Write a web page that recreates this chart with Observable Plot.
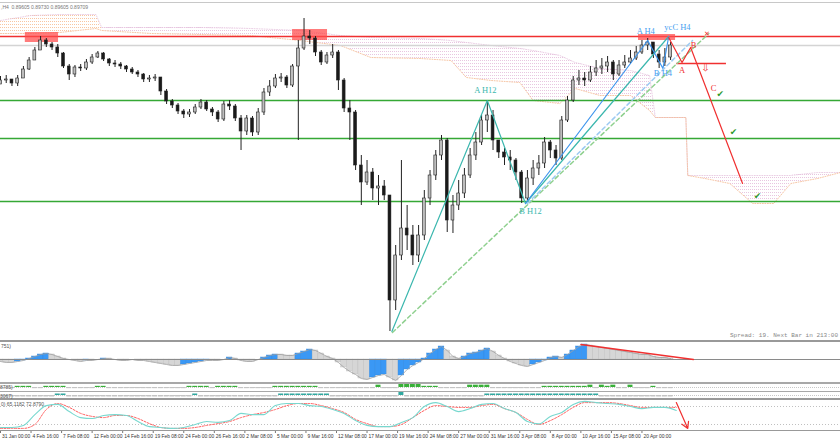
<!DOCTYPE html>
<html>
<head>
<meta charset="utf-8">
<script src="https://cdn.jsdelivr.net/npm/d3@7"></script>
<script src="https://cdn.jsdelivr.net/npm/@observablehq/plot@0.6"></script>
<style>
  body { margin: 0; background: #fff; }
  #chart { position: relative; width: 840px; height: 440px; overflow: hidden; background: #fff; }
  #chart svg { position: absolute; left: 0; }
  .sep { position: absolute; left: 0; width: 840px; background: #a8a8a8; }
  .lbl { position: absolute; white-space: pre; font-family: "Liberation Sans", sans-serif; font-size: 5.5px; color: #555; }
</style>
</head>
<body>
<div id="chart"></div>
<script>
// H4 candles, one every 3 bars (x = bar number)
const firstOpen = 0.8932;
const close = [0.8936,0.8937,0.8933,0.8938,0.8947,0.8956,0.8966,0.8976,0.8972,0.8969,
  0.8963,0.8950,0.8942,0.8949,0.8948,0.8954,0.8959,0.8963,0.8957,0.8953,
  0.8952,0.8950,0.8947,0.8944,0.8942,0.8937,0.8938,0.8939,0.8925,0.8915,
  0.8911,0.8905,0.8902,0.8904,0.8909,0.8914,0.8907,0.8904,0.8897,0.8912,
  0.8910,0.8898,0.8885,0.8898,0.8884,0.8904,0.8924,0.8930,0.8938,0.8939,
  0.8931,0.8950,0.8968,0.8980,0.8978,0.8964,0.8954,0.8961,0.8964,0.8936,
  0.8908,0.8904,0.8851,0.8834,0.8844,0.8828,0.8830,0.8821,0.8716,0.8761,
  0.8788,0.8781,0.8761,0.8781,0.8818,0.8841,0.8861,0.8876,0.8796,0.8811,
  0.8823,0.8841,0.8861,0.8874,0.8896,0.8901,0.8876,0.8864,0.8859,0.8856,
  0.8844,0.8818,0.8838,0.8848,0.8853,0.8874,0.8866,0.8858,0.8896,0.8916,
  0.8936,0.8938,0.8936,0.8944,0.8948,0.8950,0.8954,0.8942,0.8951,0.8954,
  0.8958,0.8964,0.8971,0.8974,0.8962,0.8954,0.8959,0.8971];
const high = [0.8940,0.8941,0.8937,0.8941,0.8950,0.8959,0.8969,0.8980,0.8978,0.8974,
  0.8972,0.8964,0.8952,0.8951,0.8952,0.8957,0.8962,0.8965,0.8964,0.8958,
  0.8956,0.8954,0.8951,0.8949,0.8946,0.8943,0.8941,0.8942,0.8939,0.8927,
  0.8917,0.8913,0.8907,0.8907,0.8912,0.8917,0.8916,0.8909,0.8906,0.8915,
  0.8916,0.8912,0.8901,0.8901,0.8900,0.8908,0.8928,0.8936,0.8942,0.8943,
  0.8941,0.8952,0.8976,0.8998,0.8986,0.8980,0.8966,0.8964,0.8972,0.8966,
  0.8938,0.8916,0.8906,0.8861,0.8856,0.8848,0.8841,0.8836,0.8821,0.8771,
  0.8856,0.8811,0.8791,0.8791,0.8826,0.8846,0.8866,0.8881,0.8878,0.8821,
  0.8836,0.8848,0.8868,0.8884,0.8901,0.8916,0.8906,0.8876,0.8868,0.8866,
  0.8858,0.8846,0.8846,0.8856,0.8861,0.8879,0.8876,0.8871,0.8900,0.8920,
  0.8940,0.8946,0.8944,0.8950,0.8956,0.8958,0.8960,0.8956,0.8956,0.8961,
  0.8966,0.8970,0.8976,0.8978,0.8974,0.8966,0.8968,0.8974];
const low = [0.8932,0.8933,0.8930,0.8930,0.8940,0.8946,0.8956,0.8966,0.8969,0.8966,
  0.8959,0.8948,0.8936,0.8939,0.8945,0.8946,0.8952,0.8958,0.8955,0.8950,
  0.8949,0.8947,0.8944,0.8942,0.8939,0.8934,0.8934,0.8935,0.8921,0.8912,
  0.8908,0.8902,0.8898,0.8899,0.8902,0.8907,0.8905,0.8900,0.8894,0.8895,
  0.8906,0.8895,0.8866,0.8881,0.8880,0.8881,0.8901,0.8920,0.8928,0.8934,
  0.8928,0.8929,0.8876,0.8966,0.8972,0.8960,0.8951,0.8952,0.8958,0.8926,
  0.8904,0.8876,0.8846,0.8811,0.8831,0.8816,0.8811,0.8816,0.8685,0.8706,
  0.8756,0.8766,0.8751,0.8754,0.8776,0.8811,0.8836,0.8856,0.8784,0.8783,
  0.8806,0.8818,0.8838,0.8856,0.8871,0.8884,0.8866,0.8858,0.8851,0.8846,
  0.8836,0.8813,0.8816,0.8831,0.8841,0.8848,0.8858,0.8851,0.8856,0.8894,
  0.8914,0.8931,0.8930,0.8934,0.8940,0.8942,0.8944,0.8936,0.8940,0.8948,
  0.8952,0.8956,0.8962,0.8966,0.8958,0.8948,0.8950,0.8956];

// histogram oscillator (points), same candles
const macd = [-2,-3,-3,-2,-1,1,3,5,6,5, 3,1,0,-1,-2,-1,-1,0,1,1,
  0,-1,-1,0,-1,-1,-2,-3,-4,-5, -6,-6,-5,-4,-3,-2,-1,-1,-1,0,
  2,1,-1,-2,-2,0,2,4,5,5, 4,4,6,8,10,9,6,3,1,-3,
  -8,-12,-15,-19,-20,-18,-16,-15,-18,-21, -16,-10,-6,-3,1,6,10,13,9,3,
  1,3,6,7,9,11,8,4,1,-2, -4,-6,-7,-5,-3,-1,2,3,2,5,
  9,13,15,14,13,12,11,10,9,8, 7,6,5,5,3,2,2,1];
const osc1 = [-1,-1,-1,1,1,1,-1,-1,1,1, 1,1,-1,-1,-1,-1,-1,1,1,-1,
  -1,-1,-1,-1,-1,-1,-1,-1,-1,-1, -1,-1,-1,1,1,1,1,-1,1,1,
  1,1,-1,-1,-1,-1,-1,-1,1,1, 1,1,1,1,1,1,-1,-1,-1,-1,
  -1,-1,-1,-1,-1,-1,2,-1,-1,-1, 3,3,3,3,1,1,1,-1,-1,-1,
  -1,-1,2,2,2,2,-1,-1,-1,-1, -1,-1,-1,-1,-1,1,1,1,1,1,
  1,1,1,2,-1,2,1,2,-1,-1, 2,-1,-1,-1,1,-1,-1,-1];
const osc2 = [-1,-1,-1,-1,-1,-1,-1,-1,-1,-1, 1,1,-1,-1,-1,-1,-1,-1,-1,-1,
  -1,-1,-1,-1,-1,-1,-1,-1,-1,-1, -1,-1,-1,-1,1,-1,-1,-1,-1,-1,
  -1,-1,-1,-1,-1,-1,-1,-1,-1,1, 1,1,1,1,1,1,1,1,-1,-1,
  -1,-1,-1,-1,-1,-1,-1,-1,-1,-1, 2,-1,-1,-1,-1,-1,-1,-1,-1,-1,
  -1,-1,-1,-1,-1,1,1,1,1,1, 1,1,1,1,1,1,1,1,1,1,
  1,1,1,1,1,-1,-1,-1,-1,-1, -1,-1,-1,-1,-1,-1,-1,-1];

// stochastic, one value every 6 bars
const stochMain = [10,10,17,53,83,87,63,43,40,50, 53,50,30,13,10,7,10,20,30,27,
  33,57,53,53,83,90,90,83,80,70, 57,33,17,13,13,27,43,80,93,80,
  63,73,87,90,73,60,30,22,47,60, 87,97,93,90,87,80,73,77,77,67];
const stochSignal = [7,7,7,20,70,90,77,57,47,43, 50,50,40,23,10,7,7,10,17,23,
  30,43,53,60,70,83,90,90,83,73, 60,37,23,13,13,20,43,67,83,80,
  77,77,83,87,73,60,37,20,33,53, 77,93,93,93,90,83,77,77,77,77];

// ichimoku cloud
const cloudBar = [0,16,31,50,53,79,105,131,157,178,194,220,236,244,257,272,279,293,301,314,330,340,343,359,360,369,382,394,405,414,428,440];
const cloudA = [0.8996,0.9001,0.9002,0.9002,0.8989,0.8989,0.8989,0.8988,0.8986,0.8981,0.8979,0.8978,0.8976,0.8974,0.8971,0.8968,
  0.8966,0.8961,0.8954,0.8948,0.8946,0.8941,0.8899,0.8899,0.8841,0.8841,0.8841,0.8841,0.8841,0.8841,0.8844,0.8844];
const cloudB = [0.8983,0.8983,0.8984,0.8988,0.8986,0.8983,0.8982,0.8981,0.8976,0.8971,0.8959,0.8958,0.8956,0.8939,0.8936,0.8934,
  0.8916,0.8913,0.8928,0.8921,0.8921,0.8906,0.8899,0.8899,0.8841,0.8838,0.8833,0.8813,0.8813,0.8833,0.8838,0.8844];

// levels and zones
const resistance = 0.8980;
const supports = [0.8916, 0.8878, 0.8815];
const zones = [
  {x1: 13, x2: 30.4, y1: 0.8974, y2: 0.8984},
  {x1: 153, x2: 171.3, y1: 0.8976, y2: 0.8987},
  {x1: 334.2, x2: 353.6, y1: 0.8976, y2: 0.8982}
];
const stopLevel = [{x1: 354, x2: 380, price: 0.8953}];

// wave drawings (bar, price)
const wavesH12 = [{bar: 205, price: 0.8685}, {bar: 255, price: 0.8916}, {bar: 275, price: 0.8813}];
const wavesH4 = [{bar: 339, price: 0.8976}, {bar: 347, price: 0.8948}, {bar: 350, price: 0.8980}];
const lineToA4 = [{bar: 275, price: 0.8813}, {bar: 339, price: 0.8976}];
const lineToC4 = [{bar: 275, price: 0.8813}, {bar: 350, price: 0.8980}];
const channelBlue = [{bar: 276, price: 0.8813}, {bar: 362.5, price: 0.8976}];
const channelGreen = [{bar: 205.3, price: 0.8684}, {bar: 371, price: 0.8983}];
const forecast = [{bar: 350, price: 0.8979}, {bar: 357, price: 0.8954}, {bar: 361.5, price: 0.8969}, {bar: 388.7, price: 0.8833}];
const divergence = [{bar: 304, v: 15}, {bar: 363, v: 0}];
const stochArrow = [{x1: 354, y1: 93, x2: 360, y2: 7}];

const waveLabels = [
  {bar: 254, price: 0.8926, text: "A H12", color: "#3bb7ae"},
  {bar: 277.6, price: 0.8805, text: "B H12", color: "#3bb7ae"},
  {bar: 338, price: 0.8985, text: "A H4", color: "#4a9ff0"},
  {bar: 354.6, price: 0.8989, text: "усС H4", color: "#4a9ff0"},
  {bar: 347, price: 0.8943, text: "B H4", color: "#4a9ff0"},
  {bar: 357, price: 0.8946, text: "A", color: "#f03030"},
  {bar: 363, price: 0.8971, text: "B", color: "#f03030"},
  {bar: 373.5, price: 0.8928, text: "C", color: "#f03030"}
];
const checks = [{bar: 377, price: 0.8922}, {bar: 384, price: 0.8884}, {bar: 396.5, price: 0.8820}];

const tickLabels = ["31 Jan 00:00","4 Feb 16:00","7 Feb 08:00","12 Feb 00:00","14 Feb 16:00","19 Feb 08:00",
  "24 Feb 00:00","26 Feb 16:00","2 Mar 08:00","5 Mar 00:00","9 Mar 16:00","12 Mar 08:00","17 Mar 00:00",
  "19 Mar 16:00","24 Mar 08:00","27 Mar 00:00","31 Mar 16:00","3 Apr 08:00","8 Apr 00:00","10 Apr 16:00",
  "15 Apr 08:00","20 Apr 00:00"];
const tickBars = tickLabels.map((d, i) => i * 16);

// ---- tables
const candles = close.map((c, i) => ({x: 3 * i, o: i ? close[i - 1] : firstOpen, c, h: high[i], l: low[i]}));
const hist = macd.map((v, i) => ({x: 3 * i, v, up: i > 0 && v > macd[i - 1]}));
const bars1 = osc1.map((v, i) => ({x: 3 * i, v}));
const bars2 = osc2.map((v, i) => ({x: 3 * i, v}));
const stoch = stochMain.map((v, i) => ({x: 6 * i, main: v, signal: stochSignal[i]}));
const cloud = cloudBar.map((b, i) => ({bar: b, a: cloudA[i], b: cloudB[i]}));

const chart = document.getElementById("chart");
const X = {domain: [0, 440], range: [0, 840], axis: null};
const red = "#f03030", green = "#35a835", teal = "#3bb7ae", blue = "#3d95ee";

function panel(top, height, y, marks) {
  const svg = Plot.plot({width: 840, height, margin: 0, x: X, y: {...y, axis: null}, marks,
    style: {background: "transparent", fontFamily: "Liberation Sans"}});
  svg.style.top = top + "px";
  chart.append(svg);
  return svg;
}

// ---- main price panel
const main = panel(0, 340, {domain: [0.8676, 0.9016], range: [340, 0]}, [
  Plot.areaY(cloud.filter(d => d.bar <= 53), {x: "bar", y1: "a", y2: "b", fill: "url(#dotsOrange)"}),
  Plot.areaY(cloud.filter(d => d.bar >= 53), {x: "bar", y1: "a", y2: "b", fill: "url(#dotsPink)"}),
  Plot.line(cloud, {x: "bar", y: "a", stroke: "#e6c4de", strokeWidth: 0.8, strokeDasharray: "1,1.5"}),
  Plot.line(cloud, {x: "bar", y: "b", stroke: "#f4b88e", strokeWidth: 0.8, strokeDasharray: "1,1.5"}),
  Plot.ruleY([close[close.length - 1]], {stroke: "#d4d4d4", strokeWidth: 1.5}),
  Plot.ruleY([resistance], {stroke: red, strokeWidth: 1.3}),
  Plot.ruleY(supports, {stroke: green, strokeWidth: 1.5}),
  Plot.link(stopLevel, {x1: "x1", x2: "x2", y1: "price", y2: "price", stroke: red, strokeWidth: 1.4}),
  Plot.rect(zones, {x1: "x1", x2: "x2", y1: "y1", y2: "y2", fill: "#ff4a4a", fillOpacity: 0.72}),
  Plot.line(channelGreen, {x: "bar", y: "price", stroke: "#8fd08f", strokeDasharray: "4,3"}),
  Plot.ruleX(candles, {x: "x", y1: "l", y2: "h", stroke: "#222", strokeWidth: 1}),
  Plot.rect(candles, {x1: d => d.x - 0.75, x2: d => d.x + 0.75, y1: "o", y2: "c",
    fill: d => d.c >= d.o ? "#bdbdbd" : "#1a1a1a", stroke: "#222", strokeWidth: 0.6}),
  Plot.line(wavesH12, {x: "bar", y: "price", stroke: teal, strokeWidth: 1.2}),
  Plot.line(lineToC4, {x: "bar", y: "price", stroke: teal, strokeWidth: 1.2}),
  Plot.line(lineToA4, {x: "bar", y: "price", stroke: blue, strokeWidth: 1.2}),
  Plot.line(wavesH4, {x: "bar", y: "price", stroke: blue, strokeWidth: 1.2}),
  Plot.line(channelBlue, {x: "bar", y: "price", stroke: "#9ccaf2", strokeDasharray: "4,3"}),
  Plot.line(forecast, {x: "bar", y: "price", stroke: red, strokeWidth: 1.2}),
  Plot.text(waveLabels, {x: "bar", y: "price", text: "text", fill: "color", fontSize: 8.5,
    fontFamily: "Liberation Serif"}),
  Plot.text([{bar: 370, price: 0.8983}], {x: "bar", y: "price", text: () => "✕", fill: red, fontSize: 7,
    fontWeight: "bold", fontFamily: "DejaVu Sans"}),
  Plot.text([{bar: 369.3, price: 0.8949}], {x: "bar", y: "price", text: () => "⇩", fill: red, fontSize: 10,
    fontFamily: "DejaVu Sans"}),
  Plot.text(checks, {x: "bar", y: "price", text: () => "✔", fill: "#2f9a2f", fontSize: 9,
    fontFamily: "DejaVu Sans"})
]);

// dotted hatch for the cloud
const defs = d3.select(main).insert("defs", ":first-child");
[["dotsOrange", "#f8c6a2"], ["dotsPink", "#e8c6e0"]].forEach(([id, col]) => {
  const p = defs.append("pattern").attr("id", id).attr("width", 2).attr("height", 3)
    .attr("patternUnits", "userSpaceOnUse");
  p.append("rect").attr("width", 1).attr("height", 1).attr("fill", col);
});

// ---- histogram panel
panel(340, 42, {domain: [-23, 19], range: [42, 0]}, [
  Plot.rect(hist, {x1: d => d.x - 1.5, x2: d => d.x + 1.5, y1: 0, y2: "v",
    fill: d => d.up ? "#3a98f5" : "#d6d6d6", stroke: d => d.up ? "#2b86e0" : "#bcbcbc", strokeWidth: 0.4}),
  Plot.line(hist, {x: "x", y: "v", stroke: "#a0a0a0", strokeWidth: 0.8}),
  Plot.ruleY([0], {stroke: "#8a8a8a"}),
  Plot.line(divergence, {x: "bar", y: "v", stroke: red, strokeWidth: 1.3})
]);

// ---- two thin oscillator strips
panel(383, 8, {domain: [-3, 3], range: [7.5, 0.5]}, [
  Plot.ruleY([0], {stroke: "#c8c8c8", strokeDasharray: "1,1"}),
  Plot.rect(bars1, {x1: d => d.x - 1.3, x2: d => d.x + 1.3, y1: 0, y2: "v",
    fill: d => d.v > 0 ? "#38b038" : "#c4c4c4"})
]);
panel(392, 6, {domain: [-2, 2], range: [6, 0]}, [
  Plot.ruleY([0], {stroke: "#c8c8c8", strokeDasharray: "1,1"}),
  Plot.rect(bars2, {x1: d => d.x - 1.3, x2: d => d.x + 1.3, y1: 0, y2: "v",
    fill: d => d.v > 0 ? "#30a8a0" : "#c4c4c4"})
]);

// ---- stochastic panel
panel(399, 32, {domain: [0, 100], range: [31, 1]}, [
  Plot.ruleY([20, 80], {stroke: "#c0c0c0", strokeDasharray: "1,2"}),
  Plot.line(stoch, {x: "x", y: "signal", stroke: "#ff6060", strokeWidth: 1, strokeDasharray: "2,1.5", curve: "monotone-x"}),
  Plot.line(stoch, {x: "x", y: "main", stroke: "#78d8cf", strokeWidth: 1.1, curve: "monotone-x"}),
  Plot.arrow(stochArrow, {x1: "x1", y1: "y1", x2: "x2", y2: "y2", stroke: red, strokeWidth: 1.2, headLength: 9})
]);

// ---- time axis
panel(431, 9, {domain: [0, 9], range: [0, 9]}, [
  Plot.ruleX(tickBars, {y1: 0, y2: 2, stroke: "#777"}),
  Plot.text(tickBars, {x: d => d, y: 4.8, text: (d, i) => tickLabels[i], textAnchor: "start", dx: 1.5,
    fontSize: 4.9, fill: "#333", fontFamily: "Liberation Sans"})
]);

// ---- separators and terminal texts
[[1.5, 1.2, "#c8c8c8"], [340, 2, "#999"], [382, 1.5, "#a8a8a8"], [390.5, 1.5, "#a8a8a8"], [398, 2, "#999"], [430, 1, "#999"]]
  .forEach(([top, h, col]) => {
    const s = document.createElement("div");
    s.className = "sep";
    s.style.top = top + "px"; s.style.height = h + "px"; s.style.background = col;
    chart.append(s);
  });
function label(text, left, top, extra) {
  const d = document.createElement("div");
  d.className = "lbl";
  d.textContent = text;
  d.style.left = left + "px"; d.style.top = top + "px";
  Object.assign(d.style, extra || {});
  chart.append(d);
}
label(",H4  0.89605 0.89730 0.89605 0.89709", 1, 3.5, {color: "#777", fontSize: "5px"});
label("Spread: 19. Next Bar in 213:00", 730, 332, {fontFamily: "Liberation Mono", fontSize: "6px", color: "#888"});
label("751)", 1, 343, {fontSize: "5px"});
label("8785)", 0, 384, {fontSize: "5px"});
label("3067)", 0, 392.5, {fontSize: "5px"});
label("0) 65.1182 72.8790", 1, 400.5, {fontSize: "5px"});
</script>
</body>
</html>
